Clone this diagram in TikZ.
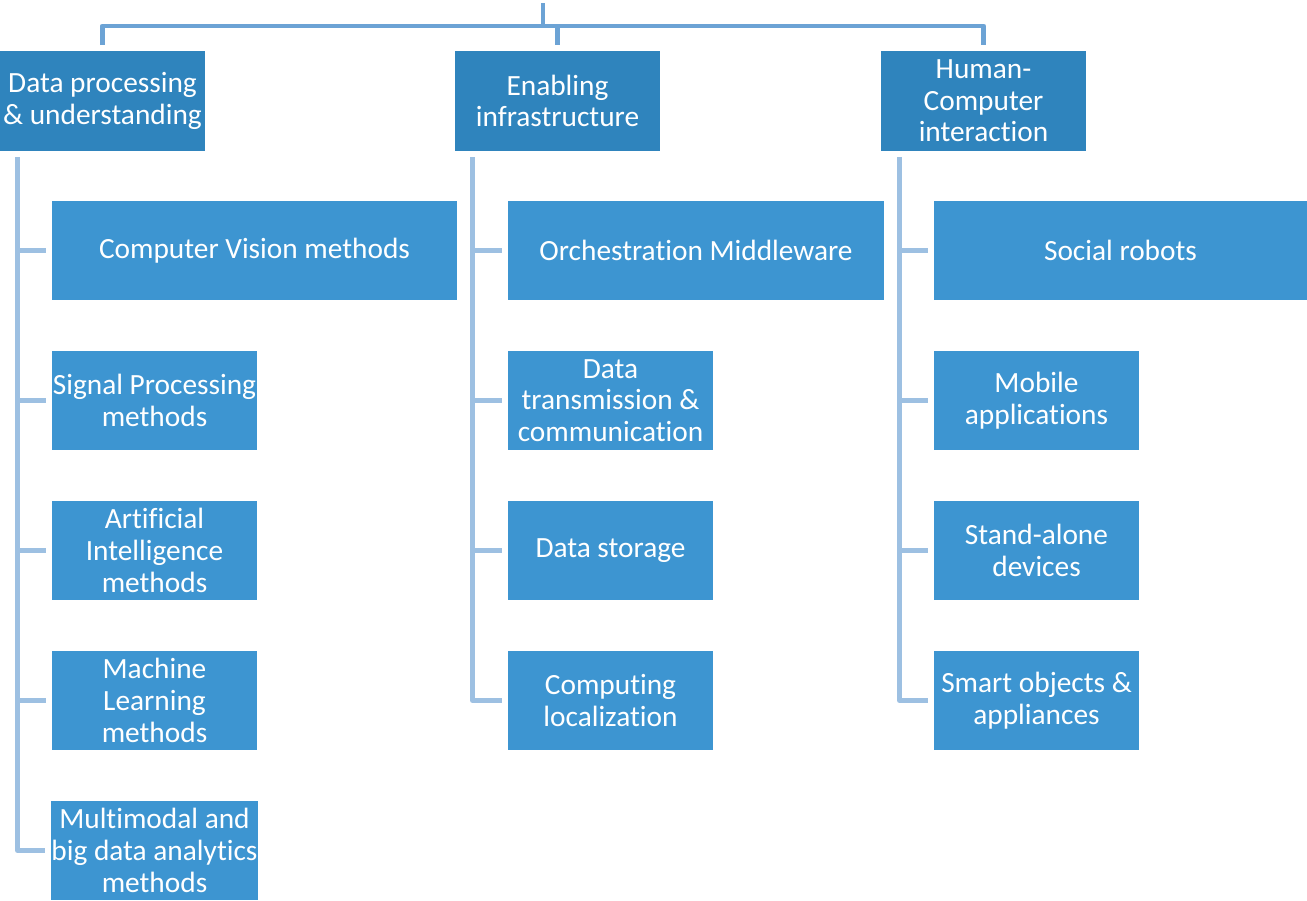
\documentclass[tikz,border=0pt]{standalone}
\usepackage{fontspec}
\setmainfont{Carlito}[Ligatures=NoCommon]
\usetikzlibrary{calc}
\definecolor{headblue}{HTML}{2F84BD}
\definecolor{itemblue}{HTML}{3D95D1}
\definecolor{barblue}{HTML}{6CA3D5}
\definecolor{spineblue}{HTML}{9DC0E2}
\tikzset{
  headbox/.style={fill=headblue,draw=none,text=white,align=center,inner sep=0pt,
    minimum width=205*0.02cm,minimum height=100*0.02cm,font=\fontsize{16.7}{18}\selectfont},
  itembox/.style={fill=itemblue,draw=none,text=white,align=center,inner sep=0pt,
    minimum width=205*0.02cm,minimum height=99*0.02cm,font=\fontsize{16.7}{18}\selectfont},
  topline/.style={draw=barblue,line width=2.8pt,line join=round},
  subline/.style={draw=spineblue,line width=3pt,line join=round,shorten >=3.4pt}
}
\begin{document}
\begin{tikzpicture}[x=0.02cm,y=-0.02cm]
\useasboundingbox (0,0) rectangle (1307,900);
% top level
\node[headbox](hdp) at (102.5,101){Data processing\\\& understanding};
\node[headbox](hei) at (557.5,101){Enabling\\infrastructure};
\node[headbox](hhc) at (983.5,101){Human-\\Computer\\interaction};
\coordinate (root) at (543,3);
\coordinate (bar) at (543,26);
\draw[topline] (root) -- (bar);
\draw[topline,shorten >=3.4pt] (bar) -| (hdp);
\draw[topline,shorten >=3.4pt] (bar) -| (hei);
\draw[topline,shorten >=3.4pt] (bar) -| (hhc);
% data processing
\node[itembox,minimum width=405*0.02cm](cv) at (254.5,250.5){Computer Vision methods};
\node[itembox](sp) at (154.5,400.5){Signal Processing\\methods};
\node[itembox](ai) at (154.5,550.5){Artificial\\Intelligence\\methods};
\node[itembox](ml) at (154.5,700.5){Machine\\Learning\\methods};
\node[itembox](mm) at (154.5,850.5){Multimodal and\\big data analytics\\methods};
% enabling infrastructure
\node[itembox,minimum width=376*0.02cm](om) at (696,250.5){Orchestration Middleware};
\node[itembox](dt) at (610.5,400.5){Data\\transmission \&\\communication};
\node[itembox](ds) at (610.5,550.5){Data storage};
\node[itembox](cl) at (610.5,700.5){Computing\\localization};
% human-computer interaction
\node[itembox,minimum width=373*0.02cm](sr) at (1120.5,250.5){Social robots};
\node[itembox](ma) at (1036.5,400.5){Mobile\\applications};
\node[itembox](sa) at (1036.5,550.5){Stand-alone\\devices};
\node[itembox](so) at (1036.5,700.5){Smart objects \&\\appliances};
% spines
\coordinate (s1) at ($(hdp.south west)+(18,6)$);
\coordinate (s2) at ($(hei.south west)+(18,6)$);
\coordinate (s3) at ($(hhc.south west)+(19,6)$);
\foreach \c in {cv,sp,ai,ml,mm} \draw[subline] (s1) |- (\c);
\foreach \c in {om,dt,ds,cl} \draw[subline] (s2) |- (\c);
\foreach \c in {sr,ma,sa,so} \draw[subline] (s3) |- (\c);
\end{tikzpicture}
\end{document}
